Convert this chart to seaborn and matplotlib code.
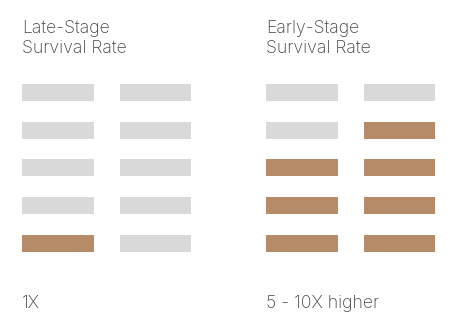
import pandas as pd
import matplotlib.pyplot as plt
import seaborn as sns

# Rows of the icon grid (top to bottom) and fill state of each cell per column
rows = ["r1", "r2", "r3", "r4", "r5"]
late_col1 = ["empty", "empty", "empty", "empty", "filled"]
late_col2 = ["empty", "empty", "empty", "empty", "empty"]
early_col1 = ["empty", "empty", "filled", "filled", "filled"]
early_col2 = ["empty", "filled", "filled", "filled", "filled"]

titles = ["Late-Stage\nSurvival Rate", "Early-Stage\nSurvival Rate"]
footers = ["1X", "5 - 10X higher"]

palette = {"empty": "#d9d9d9", "filled": "#b68b67"}
text_color = "#444444"

sns.set_style("white")
plt.rcParams["font.family"] = ["Inter", "DejaVu Sans"]

W, H = 460, 324
fig = plt.figure(figsize=(W / 100, H / 100), dpi=100)

# pixel layout of the four columns of bars
col_left = [22, 120, 266, 364]
col_width = [72.5, 71, 72, 71.5]
grid_top, grid_bottom = 73.7, 262.0
columns = [late_col1, late_col2, early_col1, early_col2]

for left, width, states in zip(col_left, col_width, columns):
    ax = fig.add_axes([left / W, 1 - grid_bottom / H, width / W, (grid_bottom - grid_top) / H])
    df = pd.DataFrame({"row": rows, "value": [1] * len(rows), "state": states})
    sns.barplot(data=df, x="value", y="row", hue="state", palette=palette,
                orient="h", width=0.451, dodge=False, legend=False,
                saturation=1, linewidth=0, ax=ax)
    ax.set_xlim(0, 1)
    ax.set_ylim(len(rows) - 0.5, -0.5)
    ax.axis("off")

for x, title, footer in zip([22, 266], titles, footers):
    fig.text(x / W, 1 - 52.7 / H, title, fontsize=12.7, color=text_color,
             fontweight="light", va="baseline", ha="left", linespacing=1.19)
    fig.text(x / W, 1 - 308.3 / H, footer, fontsize=12.7, color=text_color,
             fontweight="light", va="baseline", ha="left")

fig.savefig("out.png", dpi=100)
